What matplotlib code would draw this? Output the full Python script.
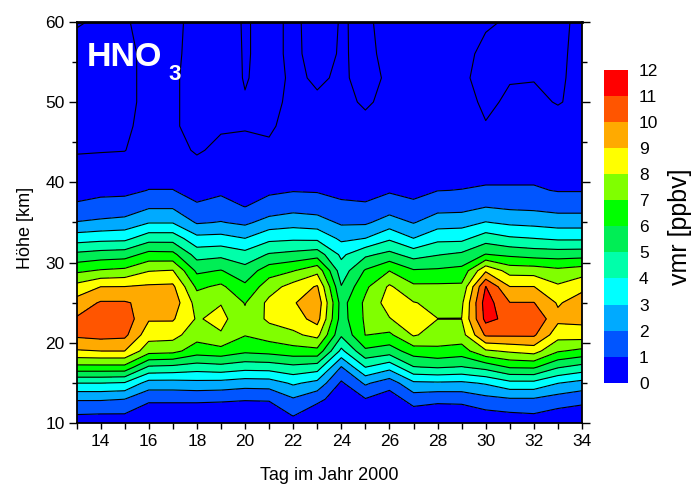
import numpy as np
import matplotlib
matplotlib.use("Agg")
import matplotlib.pyplot as plt
from matplotlib.colors import ListedColormap, BoundaryNorm
from matplotlib.cm import ScalarMappable
from matplotlib.ticker import MultipleLocator

# HNO3 volume mixing ratio [ppbv]; one profile per day of year 2000
days = list(range(13, 35))
altitudes = [10, 11, 13, 15, 17, 19, 21, 23, 25, 27, 29, 31, 33, 35, 37, 39,
             41, 44, 47, 50, 53, 56, 60]

d13 = [0.4, 0.95, 2.1, 4.0, 6.7, 8.9, 10.2, 10.1, 9.4, 8.35, 6.8, 5.25, 3.55, 2.05, 1.1, 0.75, 0.4, -0.08, -0.25, -0.3, -0.3, -0.2, 0.05]
d14 = [0.35, 0.9, 2.1, 4.0, 6.7, 9.0, 10.35, 10.7, 10.1, 9.0, 7.1, 5.45, 3.7, 2.2, 1.3, 0.78, 0.45, -0.05, -0.25, -0.3, -0.3, -0.25, -0.07]
d15 = [0.35, 0.9, 2.0, 3.9, 6.7, 9.0, 10.25, 10.6, 10.1, 9.02, 7.25, 5.55, 3.75, 2.35, 1.35, 0.8, 0.45, -0.02, -0.08, -0.1, -0.1, -0.1, -0.03]
d16 = [0.1, 0.3, 1.2, 2.6, 4.85, 7.4, 8.4, 9.1, 9.7, 9.15, 7.95, 6.35, 4.6, 2.95, 1.85, 1.02, 0.7, 0.35, 0.15, 0.1, 0.1, 0.1, 0.1]
d17 = [0.1, 0.3, 1.2, 2.6, 4.75, 7.3, 8.35, 9.1, 9.6, 9.2, 8.05, 6.3, 4.6, 2.95, 1.85, 1.02, 0.7, 0.3, 0.08, 0.1, 0.1, 0.12, 0.12]
d18 = [0.1, 0.3, 1.2, 2.7, 4.5, 6.5, 7.4, 7.9, 7.6, 6.8, 5.8, 4.6, 3.3, 1.9, 1.1, 0.72, 0.4, -0.1, -0.2, -0.25, -0.25, -0.2, -0.15]
d19 = [0.1, 0.3, 1.15, 2.65, 4.65, 6.65, 7.9, 8.3, 7.95, 7.2, 6.05, 4.75, 3.35, 2.05, 1.3, 0.85, 0.6, 0.2, -0.1, -0.2, -0.25, -0.2, -0.15]
d20 = [0.1, 0.3, 1.07, 2.45, 4.4, 6.2, 7.05, 7.25, 6.95, 6.2, 5.4, 4.35, 3.02, 1.8, 0.98, 0.77, 0.55, 0.2, -0.05, -0.03, 0.03, 0.03, 0.03]
d21 = [0.1, 0.3, 1.1, 2.5, 4.45, 6.35, 7.45, 8.2, 8.25, 7.55, 6.55, 5.1, 3.75, 2.4, 1.35, 0.85, 0.55, 0.12, -0.1, -0.15, -0.15, -0.1, -0.1]
d22 = [0.5, 1.05, 1.9, 3.15, 4.75, 6.6, 7.8, 8.5, 8.9, 8.4, 6.95, 5.3, 3.85, 2.6, 1.6, 0.95, 0.75, 0.45, 0.25, 0.12, 0.07, 0.07, 0.07]
d23 = [0.1, 0.35, 1.25, 2.7, 4.5, 6.7, 8.3, 9.4, 9.7, 9.1, 7.7, 5.55, 3.8, 2.45, 1.5, 0.92, 0.7, 0.4, 0.2, 0.05, -0.05, -0.12, -0.14]
d24 = [0.1, 0.2, 0.5, 0.85, 1.95, 3.75, 5.15, 5.55, 5.6, 5.05, 4.45, 3.8, 2.8, 1.85, 1.15, 0.8, 0.6, 0.35, 0.2, 0.1, 0.05, 0.03, 0.02]
d25 = [0.2, 0.45, 0.95, 2.15, 4.02, 5.8, 7.02, 7.15, 7.2, 6.8, 6.1, 4.8, 3.02, 1.85, 1.1, 0.75, 0.5, 0.3, 0.1, -0.05, -0.1, -0.07, -0.05]
d26 = [0.1, 0.25, 0.45, 1.45, 3.35, 5.5, 6.8, 7.95, 8.45, 8.15, 6.98, 5.3, 3.85, 2.45, 1.5, 0.9, 0.65, 0.35, 0.2, 0.1, 0.05, 0.08, 0.1]
d27 = [0.2, 0.45, 1.45, 2.8, 4.95, 6.5, 8.1, 8.6, 8.05, 7.2, 6.1, 4.6, 3.02, 1.95, 1.2, 0.75, 0.55, 0.3, 0.15, 0.08, 0.05, 0.05, 0.05]
d28 = [0.15, 0.35, 1.25, 2.85, 5.1, 6.75, 7.6, 8.01, 7.75, 7.2, 6.15, 4.95, 3.75, 2.5, 1.65, 0.98, 0.75, 0.45, 0.3, 0.2, 0.1, 0.08, 0.05]
d29 = [0.15, 0.35, 1.3, 2.8, 4.95, 6.55, 7.6, 8.01, 7.8, 7.2, 6.3, 5.2, 3.75, 2.6, 1.65, 1.02, 0.75, 0.45, 0.3, 0.2, 0.08, 0.12, 0.1]
d30 = [0.3, 0.65, 1.7, 3.1, 5.35, 7.85, 10.15, 11.3, 11.5, 11.03, 8.85, 6.05, 4.55, 3.05, 1.95, 1.1, 0.8, 0.45, 0.03, -0.1, -0.15, -0.1, 0.05]
d31 = [0.4, 0.8, 1.9, 3.7, 6.1, 8.15, 10.15, 10.7, 10.03, 9.02, 7.6, 5.8, 4.15, 2.8, 1.8, 1.1, 0.8, 0.45, 0.25, 0.08, -0.03, -0.15, -0.04]
d32 = [0.45, 0.9, 1.9, 3.7, 6.15, 8.4, 10.15, 10.8, 10.03, 9.02, 7.55, 5.6, 4.02, 2.7, 1.75, 1.1, 0.8, 0.45, 0.25, 0.1, -0.02, -0.15, -0.15]
d33 = [0.3, 0.6, 1.55, 3.02, 5.1, 7.1, 8.4, 9.25, 8.9, 8.15, 7.25, 5.55, 3.85, 2.55, 1.6, 0.95, 0.7, 0.4, 0.2, -0.03, -0.05, -0.05, -0.03]
d34 = [0.2, 0.5, 1.28, 2.65, 4.65, 6.75, 8.5, 9.3, 9.45, 8.76, 7.5, 5.6, 3.85, 2.55, 1.6, 0.95, 0.7, 0.4, 0.2, 0.12, 0.1, 0.075, 0.03]

profiles = [d13, d14, d15, d16, d17, d18, d19, d20, d21, d22, d23,
            d24, d25, d26, d27, d28, d29, d30, d31, d32, d33, d34]

band_colors = ["#0000ff", "#0055ff", "#00aaff", "#00ffff", "#00ffaa", "#00ee55",
               "#00ff00", "#80ff00", "#ffff00", "#ffaa00", "#ff5500", "#ff0000"]
bounds = list(range(0, 13))

plt.rcParams["font.family"] = ["Liberation Sans", "DejaVu Sans"]

X, Y = np.meshgrid(days, altitudes)
Z = np.array(profiles).T

fig = plt.figure(figsize=(6.95, 4.91), dpi=100)
ax = fig.add_axes([0.1101, 0.1379, 0.7273, 0.8179])

fill_levels = [-1.0] + bounds[1:]
ax.contourf(X, Y, Z, levels=fill_levels, colors=band_colors)
ax.contour(X, Y, Z, levels=bounds[:-1], colors="black", linewidths=0.8)

ax.set_xlim(13, 34)
ax.set_ylim(10, 60)
ax.xaxis.set_major_locator(MultipleLocator(2))
ax.xaxis.set_minor_locator(MultipleLocator(1))
ax.yaxis.set_major_locator(MultipleLocator(10))
ax.yaxis.set_minor_locator(MultipleLocator(5))
ax.tick_params(axis="both", which="major", direction="out", labelsize=12.5,
               width=1.0, pad=3)
ax.tick_params(axis="x", which="major", length=4.5)
ax.tick_params(axis="x", which="minor", length=4.5, width=1.0)
ax.tick_params(axis="y", which="major", length=5.5)
ax.tick_params(axis="y", which="minor", length=3.5, width=1.0)
ax.tick_params(axis="y", which="both", right=True)
for spine in ax.spines.values():
    spine.set_linewidth(1.3)
ax.spines["top"].set_linewidth(2.0)

fig.text(25 / 695, 1 - 228 / 491, "Höhe [km]", rotation=90, ha="center",
         va="center", fontsize=13)
fig.text(329 / 695, 1 - 476 / 491, "Tag im Jahr 2000", ha="center",
         va="center", fontsize=13)

# species label inside the plot
fig.text(87 / 695, 1 - 66 / 491, "HNO", color="white", fontsize=24.5,
         fontweight="bold", ha="left", va="baseline")
fig.text(168 / 695, 1 - 80 / 491, "3", color="white", fontsize=16,
         fontweight="bold", ha="left", va="baseline")

# colour scale
cax = fig.add_axes([0.8691, 0.2206, 0.0345, 0.6368])
sm = ScalarMappable(norm=BoundaryNorm(bounds, len(band_colors)),
                    cmap=ListedColormap(band_colors))
cb = fig.colorbar(sm, cax=cax, ticks=bounds)
cb.outline.set_visible(False)
cax.tick_params(length=0, labelsize=12.5, pad=8)
fig.text(680 / 695, 1 - 227 / 491, "vmr [ppbv]", rotation=90, ha="center",
         va="center", fontsize=18)

fig.savefig("out.png", dpi=100)
